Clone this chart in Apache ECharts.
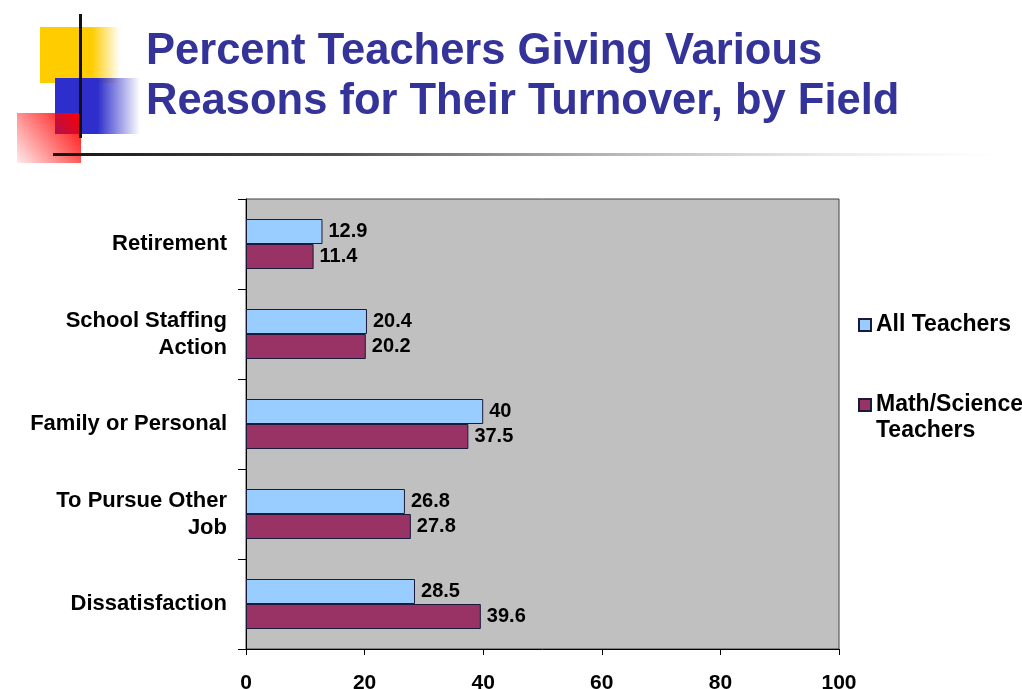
<!DOCTYPE html>
<html>
<head>
<meta charset="utf-8">
<script src="https://cdn.jsdelivr.net/npm/echarts@6/dist/echarts.min.js"></script>
<style>
html,body{margin:0;padding:0;background:#fff;}
#chart{width:1022px;height:689px;}
</style>
</head>
<body>
<div id="chart"></div>
<script>
var categories = ['Retirement', 'School Staffing\nAction', 'Family or Personal', 'To Pursue Other\nJob', 'Dissatisfaction'];
var allTeachers = [12.9, 20.4, 40, 26.8, 28.5];
var mathScience = [11.4, 20.2, 37.5, 27.8, 39.6];
var seriesNames = ['All Teachers', 'Math/Science Teachers'];
var xTicks = [0, 20, 40, 60, 80, 100];

var FONT = 'Arial, "Liberation Sans", sans-serif';
var chart = echarts.init(document.getElementById('chart'));

var option = {
  backgroundColor: '#ffffff',
  animation: false,
  title: {
    text: 'Percent Teachers Giving Various\nReasons for Their Turnover, by Field',
    left: 146,
    top: 27,
    padding: 0,
    textStyle: {
      fontFamily: FONT,
      fontSize: 43.5,
      fontWeight: 'bold',
      color: '#333399',
      lineHeight: 50
    }
  },
  graphic: [
    { type: 'rect', shape: { x: 40, y: 27, width: 80, height: 56 },
      style: { fill: new echarts.graphic.LinearGradient(0, 0, 1, 0, [
        { offset: 0, color: 'rgba(255,204,0,1)' },
        { offset: 0.65, color: 'rgba(255,204,0,1)' },
        { offset: 1, color: 'rgba(255,204,0,0)' }]) }, z: 1 },
    { type: 'rect', shape: { x: 55, y: 78, width: 85, height: 56 },
      style: { fill: new echarts.graphic.LinearGradient(0, 0, 1, 0, [
        { offset: 0, color: 'rgba(46,46,204,1)' },
        { offset: 0.5, color: 'rgba(46,46,204,1)' },
        { offset: 1, color: 'rgba(46,46,204,0)' }]) }, z: 2 },
    { type: 'rect', shape: { x: 17, y: 113, width: 64, height: 50 },
      style: { fill: new echarts.graphic.LinearGradient(1, 0, 0, 1, [
        { offset: 0, color: 'rgba(255,0,0,1)' },
        { offset: 1, color: 'rgba(255,0,0,0.08)' }]) }, z: 3 },
    { type: 'rect', shape: { x: 79, y: 14, width: 3, height: 124 },
      style: { fill: '#111111' }, z: 4 },
    { type: 'rect', shape: { x: 53, y: 153, width: 950, height: 3 },
      style: { fill: new echarts.graphic.LinearGradient(0, 0, 1, 0, [
        { offset: 0, color: 'rgba(20,20,20,1)' },
        { offset: 0.3, color: 'rgba(60,60,60,0.9)' },
        { offset: 1, color: 'rgba(200,200,200,0)' }]) }, z: 4 }
  ],
  legend: [
    {
      data: [seriesNames[0]],
      left: 858, top: 312, padding: 0,
      icon: 'rect',
      itemWidth: 12, itemHeight: 12,
      textStyle: { fontFamily: FONT, fontSize: 23, fontWeight: 'bold', color: '#000', lineHeight: 26 }
    },
    {
      data: [seriesNames[1]],
      left: 858, top: 366, padding: 0,
      icon: 'rect',
      itemWidth: 12, itemHeight: 12,
      formatter: function () { return '\nMath/Science\nTeachers'; },
      textStyle: { fontFamily: FONT, fontSize: 23, fontWeight: 'bold', color: '#000', lineHeight: 26 }
    }
  ],
  grid: {
    left: 246, top: 199, width: 593, height: 450,
    outerBoundsMode: 'none',
    containLabel: false,
    show: true, backgroundColor: '#C0C0C0', borderColor: '#404040', borderWidth: 1
  },
  xAxis: {
    type: 'value', min: 0, max: 100, interval: 20,
    splitLine: { show: false },
    axisLine: { show: true, lineStyle: { color: '#000', width: 1 } },
    axisTick: { show: true, length: 6, lineStyle: { color: '#000' } },
    axisLabel: {
      margin: 24, fontFamily: FONT, fontSize: 21, fontWeight: 'bold', color: '#000',
      formatter: function (v) { return xTicks.indexOf(v) >= 0 ? String(v) : ''; }
    }
  },
  yAxis: {
    type: 'category', data: categories, inverse: true,
    axisLine: { show: true, lineStyle: { color: '#000', width: 1 } },
    axisTick: { show: true, length: 8, lineStyle: { color: '#000' } },
    axisLabel: {
      margin: 19, fontFamily: FONT, fontSize: 22, fontWeight: 'bold', color: '#000',
      align: 'right', lineHeight: 27
    }
  },
  series: [
    {
      name: seriesNames[0], type: 'bar', data: allTeachers,
      barWidth: 25, barGap: '0%',
      itemStyle: { color: '#99CCFF', borderColor: '#1a1a3a', borderWidth: 1 },
      label: { show: true, position: 'right', distance: 6, fontFamily: FONT, fontSize: 20, fontWeight: 'bold', color: '#000' }
    },
    {
      name: seriesNames[1], type: 'bar', data: mathScience,
      barWidth: 25, barGap: '0%',
      itemStyle: { color: '#993366', borderColor: '#1a1a3a', borderWidth: 1 },
      label: { show: true, position: 'right', distance: 6, fontFamily: FONT, fontSize: 20, fontWeight: 'bold', color: '#000' }
    }
  ]
};
chart.setOption(option);
</script>
</body>
</html>
